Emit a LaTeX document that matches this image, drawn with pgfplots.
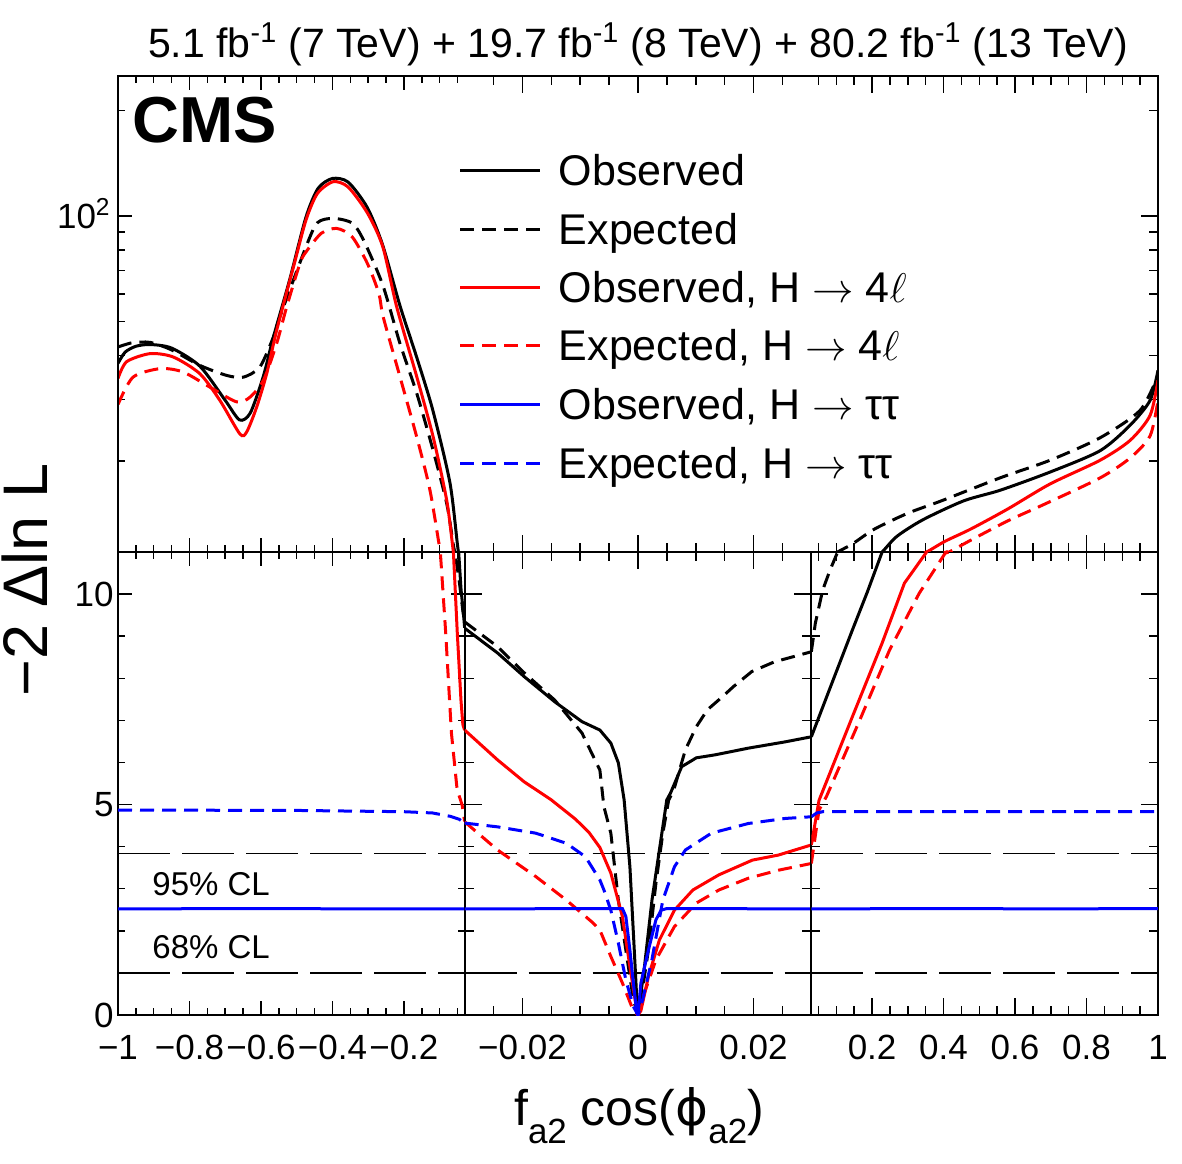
\documentclass[border=0pt]{standalone}
\usepackage{pgfplots}
\usepackage{pgfplotstable}
\pgfplotsset{compat=1.18}
\usepackage{fontspec}
\setmainfont{Liberation Sans}
\newfontfamily\dejavu{DejaVu Sans}
\newcommand\sub[1]{\raisebox{-0.36em}{\fontsize{17.5}{20}\selectfont #1}}

% ---------- left segment  (-1 .. -0.03) ----------
\pgfplotstableread{
x y
-1.000 38.0
-0.980 40.9
-0.950 42.5
-0.910 43.0
-0.850 42.0
-0.771 37.3
-0.700 29.8
-0.660 26.2
-0.630 27.4
-0.594 34.7
-0.566 44.8
-0.520 65.6
-0.474 99.3
-0.440 120
-0.400 128
-0.356 125
-0.303 106
-0.260 83
-0.211 55.5
-0.164 39.5
-0.119 27.9
-0.071 17.3
-0.049 11.3
-0.040 10.1
-0.034 9.6
-0.030 9.2
}\leftObs
\pgfplotstableread{
x y
-1.000 42.3
-0.960 43.5
-0.910 43.6
-0.850 41.5
-0.771 37.5
-0.696 35.1
-0.649 34.7
-0.603 37.1
-0.565 45.2
-0.547 51.6
-0.474 81.7
-0.442 95.7
-0.398 98.5
-0.345 95.5
-0.313 85.4
-0.259 63.5
-0.211 43.3
-0.164 31.2
-0.118 21.4
-0.080 15.1
-0.062 11.6
-0.057 11.0
-0.045 10.3
-0.035 9.6
-0.030 9.34
}\leftExp
\pgfplotstableread{
x y
-1.000 34.4
-0.976 38.4
-0.910 40.5
-0.845 39.6
-0.771 35.5
-0.715 29.8
-0.659 23.9
-0.640 24.2
-0.612 28.5
-0.584 35.5
-0.556 47.2
-0.509 71.6
-0.474 97.4
-0.442 116
-0.398 125.3
-0.356 121
-0.302 102
-0.259 81.7
-0.220 55
-0.164 34.8
-0.118 23.4
-0.080 15.4
-0.062 11.1
-0.0506 9.08
-0.0403 7.48
-0.035 6.9
-0.030 6.77
}\leftFlObs
\pgfplotstableread{
x y
-1.000 29.0
-0.958 34.7
-0.882 36.7
-0.818 35.9
-0.743 32.5
-0.668 29.5
-0.631 30.4
-0.593 34.0
-0.556 43.3
-0.528 55.1
-0.491 73.2
-0.474 79
-0.431 89.3
-0.388 92.2
-0.345 87.3
-0.302 73.2
-0.270 60.1
-0.258 51.6
-0.211 34.8
-0.164 23.4
-0.127 16.5
-0.098 11.0
-0.083 9.08
-0.067 6.70
-0.051 5.35
-0.037 4.99
-0.030 4.6
}\leftFlExp
\pgfplotstableread{
x y
-1.000 2.52
-0.600 2.53
-0.300 2.52
-0.030 2.52
}\leftTtObs
\pgfplotstableread{
x y
-1.000 4.87
-0.500 4.86
-0.200 4.83
-0.120 4.80
-0.070 4.72
-0.045 4.65
-0.030 4.56
}\leftTtExp

% ---------- middle segment (-0.03 .. 0.03) ----------
\pgfplotstableread{
x y
-0.030 9.19
-0.0243 8.60
-0.0197 8.04
-0.0144 7.44
-0.0097 6.97
-0.0066 6.77
-0.0047 6.46
-0.0034 5.99
-0.0024 5.11
-0.0014 3.52
-0.0008 1.95
-0.0002 0.36
0 0
0.00112 1.15
0.00242 2.73
0.0037 3.92
0.00498 5.11
0.00562 5.27
0.00756 5.90
0.0101 6.11
0.0133 6.18
0.0191 6.34
0.0255 6.49
0.030 6.61
}\midObs
\pgfplotstableread{
x y
-0.030 9.34
-0.0243 8.75
-0.0197 8.13
-0.0144 7.48
-0.0097 6.70
-0.0066 5.82
-0.0059 4.95
-0.0047 4.32
-0.0034 2.73
-0.0021 1.54
-0.0008 0.36
0 0
0.0005 0.36
0.0018 1.54
0.0031 3.13
0.0043 4.32
0.0053 5.10
0.0062 5.35
0.0082 6.30
0.0101 6.85
0.0120 7.25
0.0146 7.56
0.0165 7.80
0.0197 8.16
0.0236 8.39
0.0268 8.51
0.030 8.63
}\midExp
\pgfplotstableread{
x y
-0.030 6.77
-0.0243 6.06
-0.0197 5.54
-0.0150 5.11
-0.0108 4.65
-0.0085 4.34
-0.0066 3.98
-0.0047 3.37
-0.0027 2.34
-0.0014 1.15
-0.0005 0.36
0 0
0.0005 0.10
0.0018 0.91
0.0037 1.78
0.0063 2.49
0.0095 2.97
0.0140 3.33
0.0198 3.68
0.0243 3.80
0.030 4.04
}\midFlObs
\pgfplotstableread{
x y
-0.030 4.59
-0.0243 3.92
-0.0177 3.29
-0.0124 2.73
-0.0078 2.19
-0.0066 2.02
-0.0047 1.39
-0.0027 0.76
-0.0008 0.10
0 0
0.0011 0.52
0.0031 1.31
0.0063 2.10
0.0101 2.66
0.0140 2.97
0.0191 3.25
0.0243 3.44
0.030 3.60
}\midFlExp
\pgfplotstableread{
x y
-0.030 2.52
-0.0027 2.53
-0.0021 2.34
-0.0014 1.54
-0.0008 0.76
-0.0002 0.05
0 0
0.0005 0.76
0.0018 1.54
0.0031 2.26
0.0040 2.49
0.0050 2.53
0.030 2.52
}\midTtObs
\pgfplotstableread{
x y
-0.030 4.56
-0.0243 4.47
-0.0177 4.32
-0.0124 4.08
-0.0091 3.76
-0.0066 3.21
-0.0059 2.97
-0.0047 2.49
-0.0034 1.71
-0.0021 0.83
-0.0008 0.20
0 0
0.0008 0.36
0.0024 1.31
0.0043 2.73
0.0063 3.52
0.0082 3.92
0.0127 4.32
0.0191 4.55
0.0255 4.67
0.030 4.71
}\midTtExp

% ---------- right segment (0.03 .. 1) ----------
\pgfplotstableread{
x y
0.030 6.61
0.0824 7.77
0.145 9.15
0.1867 10.05
0.2281 11.0
0.2698 12.2
0.3425 13.6
0.4567 15.4
0.558 16.5
0.698 18.6
0.838 21.4
0.922 25.3
0.978 29.8
1.000 36.3
}\rightObs
\pgfplotstableread{
x y
0.030 8.63
0.0412 9.31
0.0619 10.1
0.0823 10.57
0.1036 11.0
0.145 11.6
0.2074 12.8
0.3006 14.2
0.3943 15.4
0.558 17.9
0.698 20.1
0.838 23.3
0.950 27.9
1.000 35.1
}\rightExp
\pgfplotstableread{
x y
0.030 4.04
0.0515 5.1
0.145 7.09
0.2278 8.83
0.2905 10.26
0.3526 11.0
0.404 11.8
0.4768 12.8
0.580 14.6
0.698 17.2
0.838 20.1
0.922 22.9
0.978 27
1.000 34
}\rightFlObs
\pgfplotstableread{
x y
0.030 3.6
0.0515 4.87
0.0722 5.19
0.1657 7.01
0.2488 8.67
0.3319 10.02
0.4044 10.97
0.4153 11.0
0.477 11.9
0.580 13.5
0.685 15.1
0.838 17.9
0.922 20.4
0.978 23.6
1.000 29.8
}\rightFlExp
\pgfplotstableread{
x y
0.030 2.52
0.400 2.53
0.700 2.52
1.000 2.53
}\rightTtObs
\pgfplotstableread{
x y
0.030 4.71
0.045 4.80
0.062 4.83
1.000 4.83
}\rightTtExp

\pgfplotsset{
  myBase/.style={
    scale only axis, width=173.333pt, anchor=south west,
    tick align=inside,
    every tick/.style={draw=black, line width=0.75pt},
    axis line style={line width=1pt},
    tick label style={font=\fontsize{17.5}{20}\selectfont},
    xticklabel style={inner sep=0pt},
    yticklabel style={inner sep=0pt},
    xticklabel shift=10pt, yticklabel shift=2pt,
  },
  myLower/.style={myBase, height=231.5pt, ymin=0, ymax=11,
    ytick={0,5,10}, minor ytick={1,2,3,4,6,7,8,9,11}},
  myUpper/.style={myBase, height=238pt, ymin=11, ymax=251,
    axis line style={draw=none}, xticklabels={}},
  mySegL/.style={xmin=-1, xmax=-0.03, xtick={-1,-0.8,-0.6,-0.4,-0.2},
    minor xtick={-0.95,-0.9,-0.85,-0.75,-0.7,-0.65,-0.55,-0.5,-0.45,-0.35,-0.3,-0.25,-0.15,-0.1,-0.05},
    major tick length=7pt, minor tick length=3.5pt},
  mySegM/.style={xmin=-0.03, xmax=0.03, xtick={-0.02,0,0.02},
    scaled x ticks=false,
    minor xtick={-0.025,-0.015,-0.01,-0.005,0.005,0.01,0.015,0.025},
    major tick length=8.5pt, minor tick length=4.5pt},
  mySegR/.style={xmin=0.03, xmax=1, xtick={0.2,0.4,0.6,0.8,1},
    minor xtick={0.05,0.1,0.15,0.25,0.3,0.35,0.45,0.5,0.55,0.65,0.7,0.75,0.85,0.9,0.95},
    major tick length=8.5pt, minor tick length=4.5pt},
  cobs/.style={black, line width=1.5pt, mark=none},
  cexp/.style={black, line width=1.5pt, mark=none, dash pattern=on 7pt off 4pt},
  fobs/.style={red, line width=1.5pt, mark=none},
  fexp/.style={red, line width=1.5pt, mark=none, dash pattern=on 7pt off 4pt},
  tobs/.style={blue, line width=1.5pt, mark=none},
  texp/.style={blue, line width=1.5pt, mark=none, dash pattern=on 7pt off 4pt},
  clline/.style={black, line width=0.75pt, mark=none, dash pattern=on 26pt off 6pt},
  sm/.style={smooth, tension=0.45},
}

\begin{document}
\begin{tikzpicture}[x=0.5pt,y=0.5pt]
\useasboundingbox (0,0) rectangle (1182,1163);

% ---------------- lower panels ----------------
\begin{axis}[myLower, mySegL, at={(59pt,74pt)},
  xticklabels={−1,−0.8,−0.6,−0.4,−0.2}, yticklabels={0,5,10}]
\addplot[clline] coordinates {(-1,3.84) (-0.03,3.84)};
\addplot[clline] coordinates {(-1,1) (-0.03,1)};
\addplot[cobs] table {\leftObs};
\addplot[cexp] table {\leftExp};
\addplot[fobs] table {\leftFlObs};
\addplot[fexp] table {\leftFlExp};
\addplot[tobs] table {\leftTtObs};
\addplot[texp] table {\leftTtExp};
\end{axis}

\begin{axis}[myLower, mySegM, at={(232.333pt,74pt)},
  xticklabels={−0.02,0,0.02}, yticklabels={}]
\addplot[clline] coordinates {(-0.03,3.84) (0.03,3.84)};
\addplot[clline] coordinates {(-0.03,1) (0.03,1)};
\addplot[cobs] table {\midObs};
\addplot[cexp] table {\midExp};
\addplot[fobs] table {\midFlObs};
\addplot[fexp] table {\midFlExp};
\addplot[tobs] table {\midTtObs};
\addplot[texp] table {\midTtExp};
\end{axis}

\begin{axis}[myLower, mySegR, at={(405.667pt,74pt)},
  xticklabels={0.2,0.4,0.6,0.8,1}, yticklabels={}]
\addplot[clline] coordinates {(0.03,3.84) (1,3.84)};
\addplot[clline] coordinates {(0.03,1) (1,1)};
\addplot[cobs] table {\rightObs};
\addplot[cexp] table {\rightExp};
\addplot[fobs] table {\rightFlObs};
\addplot[fexp] table {\rightFlExp};
\addplot[tobs] table {\rightTtObs};
\addplot[texp] table {\rightTtExp};
\end{axis}

% ---------------- upper panels ----------------
\begin{axis}[ymode=log, myUpper, mySegL, at={(59pt,305.5pt)},
  ytick={100}, yticklabels={10\smash{\textsuperscript{2}}},
  minor ytick={20,30,40,50,60,70,80,90,200}, ytick pos=left,
  yticklabel shift=3.5pt]
\addplot[cobs, sm] table {\leftObs};
\addplot[cexp, sm] table {\leftExp};
\addplot[fobs, sm] table {\leftFlObs};
\addplot[fexp, sm] table {\leftFlExp};
\end{axis}

\begin{axis}[ymode=log, myUpper, mySegM, at={(232.333pt,305.5pt)},
  ytick={100}, yticklabels={}, minor ytick={20,30}, ytick style={draw=none}]
\addplot[draw=none, mark=none] coordinates {(0,20) (0.01,30)};
\end{axis}

\begin{axis}[ymode=log, myUpper, mySegR, at={(405.667pt,305.5pt)},
  ytick={100}, yticklabels={},
  minor ytick={20,30,40,50,60,70,80,90,200}, ytick pos=right]
\addplot[cobs, sm] table {\rightObs};
\addplot[cexp, sm] table {\rightExp};
\addplot[fobs, sm] table {\rightFlObs};
\addplot[fexp, sm] table {\rightFlExp};
\end{axis}

% upper frame
\draw[line width=1pt] (118,611) -- (118,1087) -- (1158,1087) -- (1158,611);

% ---------------- texts ----------------
\node[anchor=base, inner sep=0pt, font=\fontsize{20.5}{24}\selectfont] at (638,1105)
  {5.1 fb\textsuperscript{-1} (7 TeV) + 19.7 fb\textsuperscript{-1} (8 TeV) + 80.2 fb\textsuperscript{-1} (13 TeV)};
\node[anchor=base west, inner sep=0pt, font=\fontsize{32.5}{36}\selectfont\bfseries] at (132,1020) {CMS};
\node[anchor=base west, inner sep=0pt, font=\fontsize{16.5}{20}\selectfont] at (152,268) {95\% CL};
\node[anchor=base west, inner sep=0pt, font=\fontsize{16.5}{20}\selectfont] at (152,205) {68\% CL};

\node[rotate=90, anchor=base, inner sep=0pt, font=\fontsize{31.5}{36}\selectfont] at (47,583) {−2 Δln L};
\node[anchor=base, inner sep=0pt, font=\fontsize{25}{30}\selectfont] at (639,38) {f\sub{a2} cos({\dejavu ϕ}\sub{a2})};

% ---------------- legend ----------------
\begin{scope}[font=\fontsize{21.5}{26}\selectfont]
\draw[black, line width=1.5pt] (460,992.3) -- (540,992.3);
\node[anchor=base west, inner sep=0pt] at (558.5,977.3) {Observed};
\draw[black, line width=1.5pt, dash pattern=on 7pt off 4pt] (460,933.7) -- (540,933.7);
\node[anchor=base west, inner sep=0pt] at (558.5,918.7) {Expected};
\draw[red, line width=1.5pt] (460,875.7) -- (540,875.7);
\node[anchor=base west, inner sep=0pt] at (558.5,860.7) {Observed, H $\rightarrow$ 4$\ell$};
\draw[red, line width=1.5pt, dash pattern=on 7pt off 4pt] (460,817) -- (540,817);
\node[anchor=base west, inner sep=0pt] at (558.5,802) {Expected, H $\rightarrow$ 4$\ell$};
\draw[blue, line width=1.5pt] (460,758) -- (540,758);
\node[anchor=base west, inner sep=0pt] at (558.5,743) {Observed, H $\rightarrow$ ττ};
\draw[blue, line width=1.5pt, dash pattern=on 7pt off 4pt] (460,699) -- (540,699);
\node[anchor=base west, inner sep=0pt] at (558.5,684) {Expected, H $\rightarrow$ ττ};
\end{scope}
\end{tikzpicture}
\end{document}
